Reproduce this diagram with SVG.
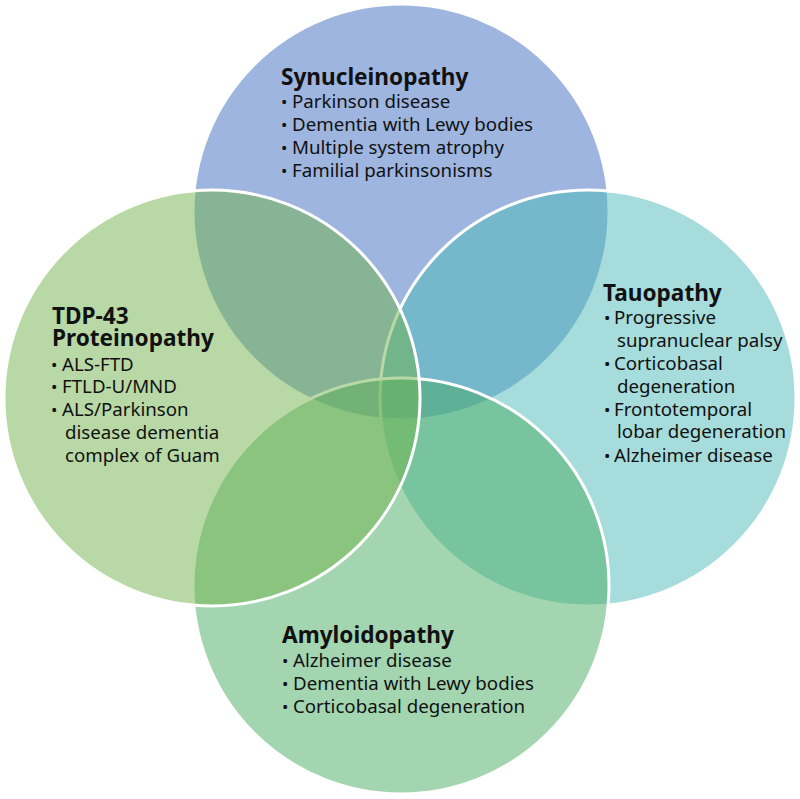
<svg xmlns="http://www.w3.org/2000/svg" width="800" height="799" viewBox="0 0 800 799">
<style>
.c{fill-opacity:0.5;stroke:#ffffff;stroke-width:3}
text{font-family:"Noto Sans","Open Sans","Liberation Sans",sans-serif;fill:#111111;font-variant-ligatures:none}
.h{font-size:22.6px;font-weight:bold}
.t{font-size:18.7px}
.b{font-size:17px}
</style>
<rect width="800" height="799" fill="#ffffff"/>
<g id="synucleinopathy">
<circle class="c" cx="401" cy="212" r="208" fill="#3b6bbf"/>
</g>
<g id="tauopathy">
<circle class="c" cx="588" cy="398" r="208" fill="#4db9b7"/>
</g>
<g id="amyloidopathy">
<circle class="c" cx="401" cy="586" r="208" fill="#47ab63"/>
</g>
<g id="tdp43">
<circle class="c" cx="212" cy="398" r="208" fill="#71b34b"/>
</g>
<g id="labels">
<text class="h" x="281" y="85">Synucleinopathy</text>
<text class="b" x="281" y="107.7">•</text><text class="t" x="292" y="107.7">Parkinson disease</text>
<text class="b" x="281" y="130.7">•</text><text class="t" x="292" y="130.7">Dementia with Lewy bodies</text>
<text class="b" x="281" y="153.5">•</text><text class="t" x="292" y="153.5">Multiple system atrophy</text>
<text class="b" x="281" y="176.5">•</text><text class="t" x="292" y="176.5">Familial parkinsonisms</text>

<text class="h" x="52" y="324">TDP-43</text>
<text class="h" x="52" y="346">Proteinopathy</text>
<text class="b" x="51" y="370.7">•</text><text class="t" x="62" y="370.7">ALS-FTD</text>
<text class="b" x="51" y="393.4">•</text><text class="t" x="62" y="393.4">FTLD-U/MND</text>
<text class="b" x="51" y="416.4">•</text><text class="t" x="62" y="416.4">ALS/Parkinson</text>
<text class="t" x="65" y="439.2">disease dementia</text>
<text class="t" x="65" y="461.8">complex of Guam</text>

<text class="h" x="603" y="301">Tauopathy</text>
<text class="b" x="604" y="324.3">•</text><text class="t" x="614" y="324.3">Progressive</text>
<text class="t" x="617" y="346.8">supranuclear palsy</text>
<text class="b" x="604" y="370">•</text><text class="t" x="614" y="370">Corticobasal</text>
<text class="t" x="617" y="392.5">degeneration</text>
<text class="b" x="604" y="415.5">•</text><text class="t" x="614" y="415.5">Frontotemporal</text>
<text class="t" x="617" y="438.3">lobar degeneration</text>
<text class="b" x="604" y="461.5">•</text><text class="t" x="614" y="461.5">Alzheimer disease</text>

<text class="h" x="282" y="643.3">Amyloidopathy</text>
<text class="b" x="282" y="666.5">•</text><text class="t" x="293" y="666.5">Alzheimer disease</text>
<text class="b" x="282" y="689.7">•</text><text class="t" x="293" y="689.7">Dementia with Lewy bodies</text>
<text class="b" x="282" y="712.5">•</text><text class="t" x="293" y="712.5">Corticobasal degeneration</text>
</g>
<g id="connectors"/>
</svg>
